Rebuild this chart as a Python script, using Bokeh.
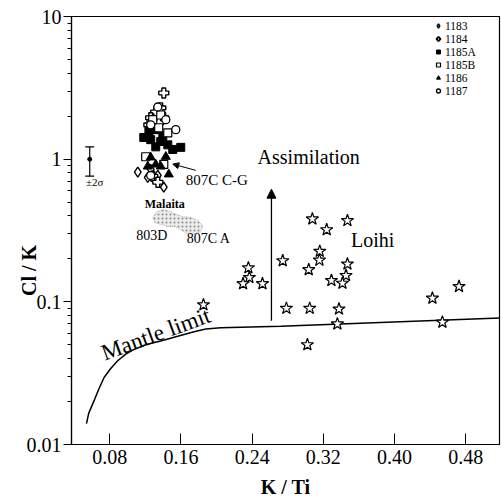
from bokeh.plotting import figure
from bokeh.models import (FixedTicker, Label, Arrow, NormalHead, Whisker,
                          TeeHead, ColumnDataSource)
from bokeh.embed import file_html
from bokeh.resources import INLINE

FONT = "Liberation Serif"

# ---------------- data ----------------
x_ticks = [0.08, 0.16, 0.24, 0.32, 0.40, 0.48]
x_tick_labels = ["0.08", "0.16", "0.24", "0.32", "0.40", "0.48"]
y_ticks = [0.01, 0.1, 1, 10]
y_tick_labels = ["0.01", "0.1", "1", "10"]

s1183_x = [0.1115, 0.1227, 0.1283, 0.134, 0.1407, 0.126]
s1183_y = [0.81, 0.746, 0.771, 0.771, 0.637, 0.848]

s1184_x = [0.1407, 0.1317, 0.1407, 0.126, 0.135, 0.1283, 0.134, 0.124, 0.1373]
s1184_y = [2.91, 2.14, 1.95, 1.95, 1.80, 0.759, 0.689, 1.74, 2.29]

s1185A_x = [0.1182, 0.126, 0.1373, 0.1452, 0.1598, 0.1508, 0.1317, 0.1396, 0.124, 0.13]
s1185A_y = [1.42, 1.37, 1.33, 1.26, 1.21, 1.17, 1.22, 1.44, 1.56, 1.61]

s1185B_x = [0.135, 0.1452, 0.1204, 0.1407, 0.1283, 0.1373]
s1185B_y = [1.66, 1.53, 1.04, 0.918, 1.89, 2.04]

s1186_x = [0.126, 0.143, 0.1227, 0.1373, 0.1463, 0.1317]
s1186_y = [1.03, 1.04, 0.889, 0.889, 0.783, 0.918]

s1187_x = [0.1542, 0.134, 0.126, 0.143, 0.126]
s1187_y = [1.61, 2.32, 1.74, 1.89, 0.768]

loihi_x = [0.3077, 0.3471, 0.3238, 0.316, 0.3156, 0.2744, 0.3471, 0.3036, 0.3455, 0.3291,
           0.3415, 0.2358, 0.2369, 0.2298, 0.2516, 0.2785, 0.3047, 0.3376, 0.3358, 0.3021,
           0.4426, 0.4725, 0.4538, 0.1853]
loihi_y = [0.381, 0.371, 0.320, 0.226, 0.196, 0.194, 0.184, 0.168, 0.153, 0.141,
           0.135, 0.173, 0.148, 0.134, 0.134, 0.090, 0.090, 0.089, 0.070, 0.050,
           0.106, 0.128, 0.072, 0.0953]

mantle_x = [0.0538, 0.0564, 0.0624, 0.0676, 0.0736, 0.0811, 0.0886, 0.098, 0.1073, 0.1204,
            0.1373, 0.1564, 0.1747, 0.1879, 0.2047, 0.2721, 0.5193]
mantle_y = [0.0140, 0.0166, 0.0203, 0.0244, 0.0295, 0.0341, 0.0385, 0.0430, 0.0464, 0.0500,
            0.0531, 0.0573, 0.0617, 0.0646, 0.0657, 0.0675, 0.0771]

malaita_x = [0.1283, 0.1328, 0.1407, 0.1485, 0.1553, 0.162, 0.171, 0.1789, 0.1845, 0.1822,
             0.1744, 0.1665, 0.1598, 0.153, 0.1452, 0.1373, 0.1306]
malaita_y = [0.3895, 0.4287, 0.4427, 0.4287, 0.4087, 0.3958, 0.3895, 0.3710, 0.3423, 0.3110,
             0.2962, 0.3010, 0.3210, 0.3369, 0.3369, 0.3478, 0.3592]

err_x = [0.0575]
err_mid = [1.0]
err_lo = [0.76]
err_hi = [1.22]

assim_x = 0.2617
assim_y0, assim_y1 = 0.0738, 0.616

# ---------------- figure ----------------
W, H = 501, 500
p = figure(width=W, height=H, y_axis_type="log",
           x_range=(0.037, 0.518), y_range=(0.01, 10),
           output_backend="svg", toolbar_location=None,
           min_border_left=71, min_border_right=2, min_border_top=16, min_border_bottom=54,
           background_fill_color="white", border_fill_color="white")
p.grid.visible = False
p.outline_line_color = "black"
p.outline_line_width = 1.2

# x axis
xa = p.xaxis[0]
xa.ticker = FixedTicker(ticks=x_ticks)
xa.major_label_overrides = dict(zip(x_ticks, x_tick_labels))
xa.major_tick_in = 11
xa.major_tick_out = 0
xa.minor_tick_in = 0
xa.minor_tick_out = 0
xa.major_label_standoff = 5
xa.major_label_text_font = FONT
xa.major_label_text_font_size = "20px"
xa.major_label_text_color = "black"
xa.axis_line_color = "black"
xa.axis_line_width = 1.2
xa.axis_label = "K / Ti"
xa.axis_label_text_font = FONT
xa.axis_label_text_font_size = "20px"
xa.axis_label_text_font_style = "bold"
xa.axis_label_text_color = "black"
xa.axis_label_standoff = 9

# y axis
minor = [k * 10 ** d for d in (-2, -1, 0) for k in range(2, 10)]
ya = p.yaxis[0]
ya.ticker = FixedTicker(ticks=y_ticks, minor_ticks=minor)
ya.major_label_overrides = dict(zip(y_ticks, y_tick_labels))
ya.major_tick_in = 0
ya.major_tick_out = 8
ya.minor_tick_in = 0
ya.minor_tick_out = 4
ya.major_label_standoff = 2
ya.major_label_text_font = FONT
ya.major_label_text_font_size = "20px"
ya.major_label_text_color = "black"
ya.axis_line_color = "black"
ya.axis_line_width = 1.2
ya.axis_label = "Cl / K" + "\u2003" * 4
ya.axis_label_text_font = FONT
ya.axis_label_text_font_size = "20px"
ya.axis_label_text_font_style = "bold"
ya.axis_label_text_color = "black"
ya.axis_label_standoff = -16

# mantle limit
p.line(mantle_x, mantle_y, line_color="black", line_width=1.5)

# Malaita field
p.patch(malaita_x, malaita_y, fill_color="#ececec", hatch_pattern="dot",
        hatch_color="#8a8a8a", hatch_scale=4, line_color="#9a9a9a", line_width=0.7,
        line_dash="1 1")

# Loihi stars
p.scatter(loihi_x, loihi_y, marker="star", size=13, fill_color="white",
          line_color="black", line_width=1.2)

# Ontong Java sites
p.scatter(s1183_x, s1183_y, marker="diamond", size=10, fill_color="white",
          line_color="black", line_width=1.4, legend_label="1183")
p.scatter(s1184_x, s1184_y, marker="plus", size=10, fill_color="white",
          line_color="black", line_width=1.4, legend_label="1184")
p.scatter(s1185A_x, s1185A_y, marker="square", size=8, fill_color="black",
          line_color="black", legend_label="1185A")
p.scatter(s1185B_x, s1185B_y, marker="square", size=8, fill_color="white",
          line_color="black", line_width=1.2, legend_label="1185B")
p.scatter(s1186_x, s1186_y, marker="triangle", size=9, fill_color="black",
          line_color="black", legend_label="1186")
p.scatter(s1187_x, s1187_y, marker="circle", size=8, fill_color="white",
          line_color="black", line_width=1.3, legend_label="1187")

# error bar
src = ColumnDataSource(dict(x=err_x, mid=err_mid, lo=err_lo, hi=err_hi))
p.add_layout(Whisker(source=src, base="x", upper="hi", lower="lo", dimension="height",
                     line_color="black", line_width=1.2,
                     upper_head=TeeHead(size=9, line_color="black", line_width=1.2),
                     lower_head=TeeHead(size=9, line_color="black", line_width=1.2)))
p.scatter("x", "mid", source=src, marker="circle", size=4, color="black")

# arrows
p.add_layout(Arrow(end=NormalHead(size=9, fill_color="black", line_color="black"),
                   x_start=assim_x, y_start=assim_y0, x_end=assim_x, y_end=assim_y1,
                   line_color="black", line_width=1.3))
p.add_layout(Arrow(end=NormalHead(size=6, fill_color="black", line_color="black"),
                   x_start=0.1766, y_start=0.835, x_end=0.1508, y_end=0.923,
                   line_color="black", line_width=1.0))

def lab(x, y, text, size, angle=0.0, style="normal", align="center"):
    p.add_layout(Label(x=x, y=y, text=text, text_font=FONT, text_font_size=size,
                       text_font_style=style, text_align=align, text_baseline="middle",
                       angle=angle, text_color="black"))

lab(0.3036, 1.043, "Assimilation", "20px")
lab(0.3755, 0.27, "Loihi", "20px")
lab(0.1317, 0.0595, "Mantle limit", "23px", angle=0.35)
lab(0.1654, 0.711, "807C C-G", "15px", align="left")
lab(0.1418, 0.488, "Malaita", "12px", style="bold")
lab(0.1272, 0.292, "803D", "14px")
lab(0.1912, 0.278, "807C A", "14px")
lab(0.0631, 0.689, "±2σ", "11px")

# legend
leg = p.legend[0]
leg.location = (362, 347)
leg.label_text_font = FONT
leg.label_text_font_size = "11.5px"
leg.label_text_color = "black"
leg.glyph_width = 10
leg.glyph_height = 13
leg.label_height = 13
leg.spacing = 0
leg.padding = 3
leg.margin = 0
leg.label_standoff = 2
leg.border_line_color = None
leg.background_fill_alpha = 0

open("out.html", "w").write(file_html(p, INLINE))
